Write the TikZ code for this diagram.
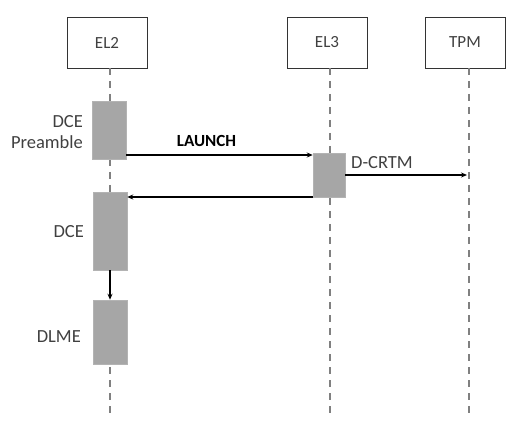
\documentclass[tikz,border=0pt]{standalone}
\usepackage{fontspec}
\setmainfont{Carlito}
\usetikzlibrary{arrows.meta}
\definecolor{txt}{HTML}{404040}
\definecolor{bar}{HTML}{A6A6A6}
\definecolor{life}{HTML}{808080}
\tikzset{
  actor/.style={draw=txt!80!black, line width=0.6pt, minimum width=80pt, minimum height=51pt, inner sep=0pt, text=txt, font=\fontsize{17}{19}\selectfont},
  lifeline/.style={draw=life, line width=1.3pt, dash pattern=on 7pt off 6pt},
  actbar/.style={fill=bar, draw=bar!85!white, line width=0.5pt, inner sep=0pt},
  msg/.style={draw=black, line width=1.1pt, -{Stealth[length=6pt,width=5pt]}},
  lbl/.style={text=txt, font=\fontsize{18.5}{21}\selectfont, inner sep=0pt}
}
\begin{document}
\begin{tikzpicture}[x=1pt,y=-1pt]
\useasboundingbox (0,0) rectangle (519,430);
% actors
\node[actor] (el2) at (107,42.5) {EL2};
\node[actor] (el3) at (327,42.5) {EL3};
\node[actor] (tpm) at (465,42.5) {TPM};
% lifelines
\coordinate (l2e) at (110,415);
\coordinate (l3e) at (330,415);
\coordinate (lte) at (469,415);
\draw[lifeline] (110,68) -- (l2e);
\draw[lifeline] (330,68) -- (l3e);
\draw[lifeline] (469,68) -- (lte);
% activation bars
\node[actbar, minimum width=34pt, minimum height=58pt] (pre) at (109,130) {};
\node[actbar, minimum width=32pt, minimum height=44pt] (d3) at (329,175) {};
\node[actbar, minimum width=34pt, minimum height=78pt] (dce) at (110,231) {};
\node[actbar, minimum width=34pt, minimum height=64pt] (dlme) at (110,332) {};
% labels
\node[lbl, align=right, anchor=east] (lpre) at (83,132) {DCE\\Preamble};
\node[lbl, anchor=east] (ldce) at (84,232) {DCE};
\node[lbl, anchor=east] (ldlme) at (81,337) {DLME};
% messages
\coordinate (tpmin) at (467,175);
\draw[msg] (pre.east |- 0,155) -- node[pos=0.43, above=4pt, font=\fontsize{17}{19}\selectfont\bfseries, text=black] (llaunch) {LAUNCH} (d3.west |- 0,155);
\draw[msg] (d3.east |- 0,175) -- (tpmin);
\node[lbl, anchor=south west] (lcrtm) at (351,169) {D-CRTM};
\draw[msg] (d3.west |- 0,197) -- (dce.east |- 0,197);
\draw[msg] (dce.south) -- (dlme.north);
\end{tikzpicture}
\end{document}
